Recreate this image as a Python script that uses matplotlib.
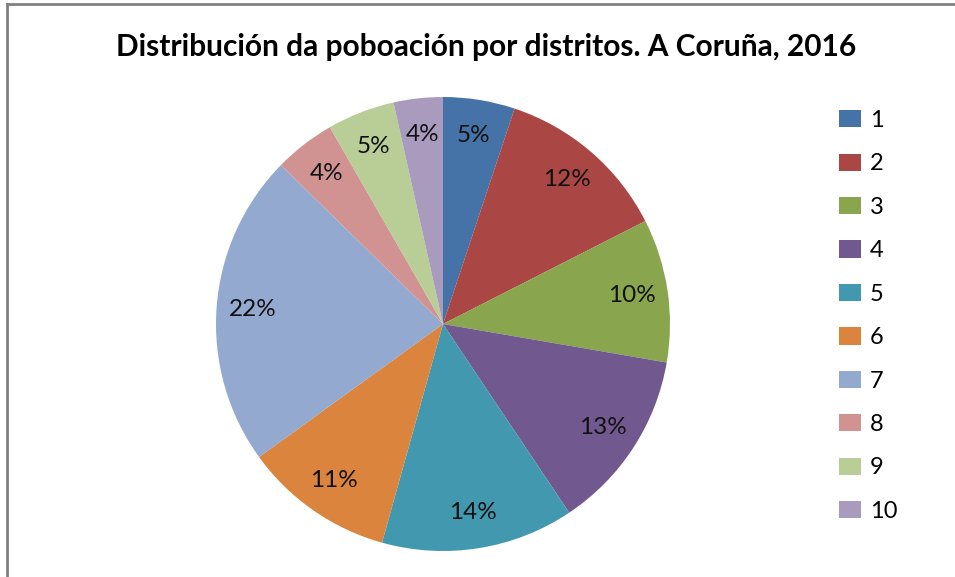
import matplotlib
import matplotlib.pyplot as plt
from matplotlib.lines import Line2D

matplotlib.use('Agg')

# poboación por distrito (%)
districts = ['1', '2', '3', '4', '5', '6', '7', '8', '9', '10']
shares = [5.1, 12.4, 10.2, 12.9, 13.7, 10.7, 22.3, 4.35, 4.8, 3.5]
colors = ['#4572A7', '#AA4643', '#89A54E', '#71588F', '#4198AF',
          '#DB843D', '#93A9CF', '#D19392', '#B9CD96', '#A99BBD']
title = 'Distribución da poboación por distritos. A Coruña, 2016'

plt.rcParams['font.family'] = ['Lato', 'DejaVu Sans']

W, H = 955, 577
fig = plt.figure(figsize=(W / 100, H / 100), dpi=100)

# pie centred at (443, 324) px, radius 227 px
cx, cy, r = 443, 324, 227
ax = fig.add_axes([(cx - r) / W, (H - cy - r) / H, 2 * r / W, 2 * r / H])
wedges, texts, autotexts = ax.pie(
    shares, colors=colors, startangle=90, counterclock=False,
    autopct='%1.0f%%', pctdistance=0.84, radius=1,
    textprops={'fontsize': 17.5, 'color': '#111111'})
ax.set_xlim(-1, 1)
ax.set_ylim(-1, 1)
ax.set_aspect('equal')

fig.text(0.509, 1 - 47 / H, title, ha='center', va='center',
         fontsize=21.5, fontweight='bold')

fig.legend(wedges, districts, loc='upper left',
           bbox_to_anchor=(839 / W, 1 - 110 / H), frameon=False,
           borderpad=0, borderaxespad=0,
           fontsize=17, handlelength=0.95, handleheight=0.75,
           labelspacing=0.95, handletextpad=0.35)

# chart frame: only left and top edges visible
fig.add_artist(Line2D([7 / W, 7 / W], [0, 1 - 4 / H], color='#808080', lw=2,
                      transform=fig.transFigure))
fig.add_artist(Line2D([7 / W, 1], [1 - 4 / H, 1 - 4 / H], color='#808080', lw=2,
                      transform=fig.transFigure))

fig.savefig('out.png', dpi=100)
